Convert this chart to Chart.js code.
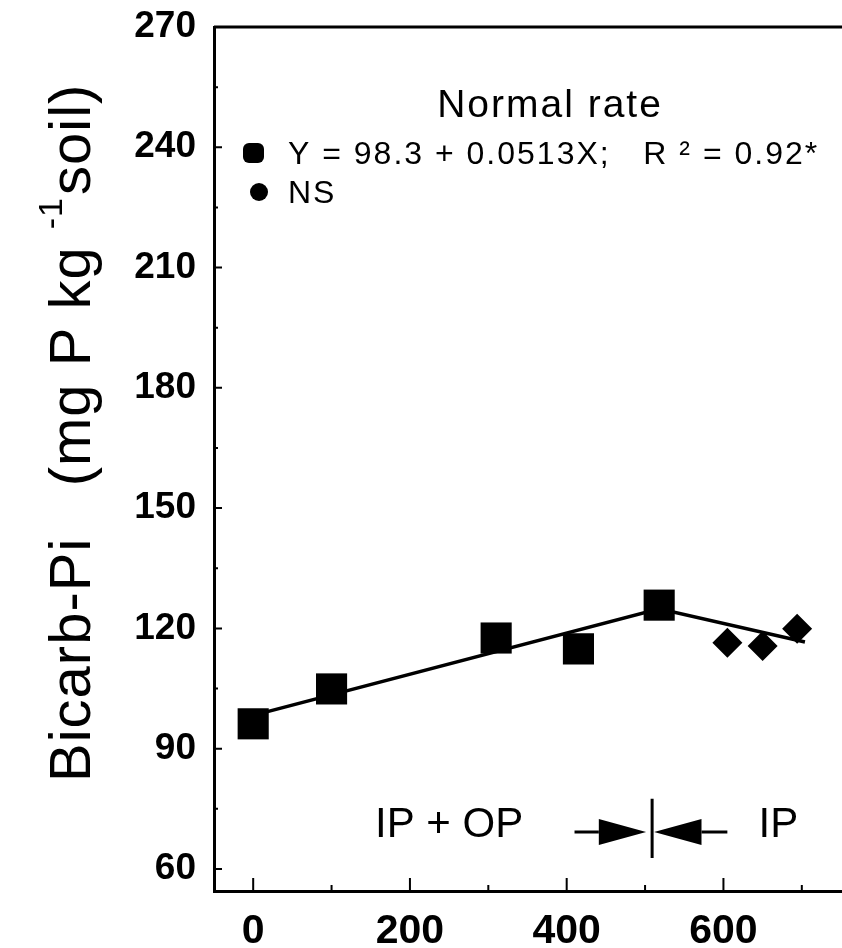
<!DOCTYPE html>
<html>
<head>
<meta charset="utf-8">
<script src="https://cdn.jsdelivr.net/npm/chart.js@4.4.1/dist/chart.umd.min.js"></script>
<style>
  html, body { margin: 0; padding: 0; background: #fff; overflow: hidden; }
  #wrap { width: 842px; height: 948px; }
  canvas { display: block; }
</style>
</head>
<body>
<div id="wrap"><canvas id="bicarbChart" width="842" height="948"></canvas></div>
<script>
// P applied (x) vs bicarbonate Pi (y)
const ipopX = [0, 100, 310, 415, 518];
const ipopY = [96.2, 104.9, 117.6, 114.9, 125.8];
const ipX = [605, 650, 694];
const ipY = [116.4, 115.6, 119.9];

// fitted line: regression over IP + OP, then the segment across the IP points
const fitX = [0, 518, 704];
const fitY = [98.3, 124.9, 116.6];

const xTicks = [0, 200, 400, 600];
const xMinorTicks = [100, 300, 500, 700];
const yTicks = [60, 90, 120, 150, 180, 210, 240, 270];
const yMinorTicks = [75, 105, 135, 165, 195, 225, 255];

const FONT = "'Liberation Sans', Arial, Helvetica, sans-serif";

function toPoints(xs, ys) {
  return xs.map((x, i) => ({ x: x, y: ys[i] }));
}

// inward tick marks, top frame line, legend and the IP / IP + OP notes
const annotate = {
  id: 'annotate',
  beforeDatasetsDraw(chart) {
    const { ctx, chartArea, scales: { x, y } } = chart;
    ctx.save();
    ctx.strokeStyle = '#000';
    ctx.lineWidth = 2;
    ctx.beginPath();
    xTicks.forEach(v => {
      const px = x.getPixelForValue(v);
      ctx.moveTo(px, chartArea.bottom);
      ctx.lineTo(px, chartArea.bottom - 13);
    });
    xMinorTicks.forEach(v => {
      const px = x.getPixelForValue(v);
      ctx.moveTo(px, chartArea.bottom);
      ctx.lineTo(px, chartArea.bottom - 6);
    });
    yTicks.forEach(v => {
      const py = y.getPixelForValue(v);
      ctx.moveTo(chartArea.left, py);
      ctx.lineTo(chartArea.left + 8, py);
    });
    yMinorTicks.forEach(v => {
      const py = y.getPixelForValue(v);
      ctx.moveTo(chartArea.left, py);
      ctx.lineTo(chartArea.left + 4, py);
    });
    ctx.stroke();

    // top frame
    ctx.lineWidth = 3;
    ctx.beginPath();
    ctx.moveTo(chartArea.left, chartArea.top);
    ctx.lineTo(chartArea.right + 1, chartArea.top);
    ctx.stroke();
    ctx.restore();
  },
  afterDatasetsDraw(chart) {
    const { ctx, scales: { x, y } } = chart;
    ctx.save();
    ctx.fillStyle = '#000';
    ctx.strokeStyle = '#000';

    // y axis title, rotated, with superscript -1
    ctx.save();
    ctx.translate(90, 782);
    ctx.rotate(-Math.PI / 2);
    ctx.letterSpacing = '1px';
    ctx.textAlign = 'left';
    ctx.textBaseline = 'alphabetic';
    ctx.font = `58px ${FONT}`;
    const part1 = 'Bicarb-Pi   (mg P kg ';
    ctx.fillText(part1, 0, 0);
    let w = ctx.measureText(part1).width;
    ctx.font = `34px ${FONT}`;
    ctx.fillText('-1', w, -28);
    w += ctx.measureText('-1').width + 2;
    ctx.font = `58px ${FONT}`;
    ctx.fillText('soil)', w, 0);
    ctx.restore();

    // panel title and legend
    ctx.letterSpacing = '2px';
    ctx.textBaseline = 'alphabetic';
    ctx.textAlign = 'center';
    ctx.font = `39px ${FONT}`;
    ctx.fillText('Normal rate', 550, 117);

    ctx.textAlign = 'left';
    ctx.letterSpacing = '2px';
    ctx.font = `32px ${FONT}`;
    ctx.fillText('Y = 98.3 + 0.0513X;   R \u00b2 = 0.92*', 288, 164);
    ctx.fillText('NS', 288, 203);
    ctx.letterSpacing = '0px';

    ctx.beginPath();
    ctx.roundRect(243, 143, 21, 20, 6);
    ctx.fill();
    ctx.beginPath();
    ctx.arc(259, 192, 9, 0, Math.PI * 2);
    ctx.fill();

    // IP + OP / IP note with arrows meeting at the bar
    ctx.textAlign = 'center';
    ctx.font = `42px ${FONT}`;
    const ty = y.getPixelForValue(71.7) + 15;
    ctx.fillText('IP + OP', x.getPixelForValue(250), ty);
    ctx.fillText('IP', x.getPixelForValue(670), ty);

    const ay = y.getPixelForValue(69.2);
    const barX = x.getPixelForValue(509);
    ctx.lineWidth = 3;
    ctx.beginPath();
    ctx.moveTo(x.getPixelForValue(410), ay);
    ctx.lineTo(x.getPixelForValue(441), ay);
    ctx.moveTo(x.getPixelForValue(572), ay);
    ctx.lineTo(x.getPixelForValue(605), ay);
    ctx.moveTo(barX, y.getPixelForValue(77.5));
    ctx.lineTo(barX, y.getPixelForValue(62.7));
    ctx.stroke();

    ctx.beginPath();
    ctx.moveTo(x.getPixelForValue(441), ay - 13);
    ctx.lineTo(barX - 6, ay);
    ctx.lineTo(x.getPixelForValue(441), ay + 13);
    ctx.closePath();
    ctx.moveTo(x.getPixelForValue(572), ay - 13);
    ctx.lineTo(barX + 2, ay);
    ctx.lineTo(x.getPixelForValue(572), ay + 13);
    ctx.closePath();
    ctx.fill();
    ctx.restore();
  }
};

new Chart(document.getElementById('bicarbChart'), {
  type: 'scatter',
  data: {
    datasets: [
      {
        label: 'IP + OP',
        data: toPoints(ipopX, ipopY),
        pointStyle: 'rect',
        pointRadius: 22,
        backgroundColor: '#000',
        borderColor: '#000',
        borderWidth: 0,
        order: 1
      },
      {
        label: 'IP',
        data: toPoints(ipX, ipY),
        pointStyle: 'rectRot',
        pointRadius: 15,
        backgroundColor: '#000',
        borderColor: '#000',
        borderWidth: 0,
        order: 1
      },
      {
        label: 'fit',
        data: toPoints(fitX, fitY),
        showLine: true,
        borderColor: '#000',
        borderWidth: 3.5,
        pointRadius: 0,
        fill: false,
        order: 2
      }
    ]
  },
  options: {
    responsive: false,
    animation: false,
    layout: { autoPadding: false, padding: { top: 27, right: 1, left: 0, bottom: 0 } },
    plugins: {
      legend: { display: false },
      tooltip: { enabled: false }
    },
    scales: {
      x: {
        type: 'linear',
        min: -50,
        max: 750,
        afterBuildTicks: s => { s.ticks = xTicks.map(v => ({ value: v })); },
        afterFit: s => {
          s.height = 57;
          s.paddingLeft = 0;
          s.paddingRight = 0;
        },
        grid: { display: false, drawTicks: false },
        border: { display: true, color: '#000', width: 3 },
        ticks: {
          color: '#000',
          padding: 16,
          maxRotation: 0,
          font: { family: FONT, size: 41, weight: 'bold' }
        }
      },
      y: {
        type: 'linear',
        min: 54.5,
        max: 270,
        afterBuildTicks: s => { s.ticks = yTicks.map(v => ({ value: v })); },
        afterFit: s => {
          s.width = 214;
          s.paddingTop = 0;
          s.paddingBottom = 0;
        },
        grid: { display: false, drawTicks: false },
        border: { display: true, color: '#000', width: 3 },
        ticks: {
          color: '#000',
          padding: 18,
          font: { family: FONT, size: 37, weight: 'bold' }
        }
      }
    }
  },
  plugins: [annotate]
});
</script>
</body>
</html>
